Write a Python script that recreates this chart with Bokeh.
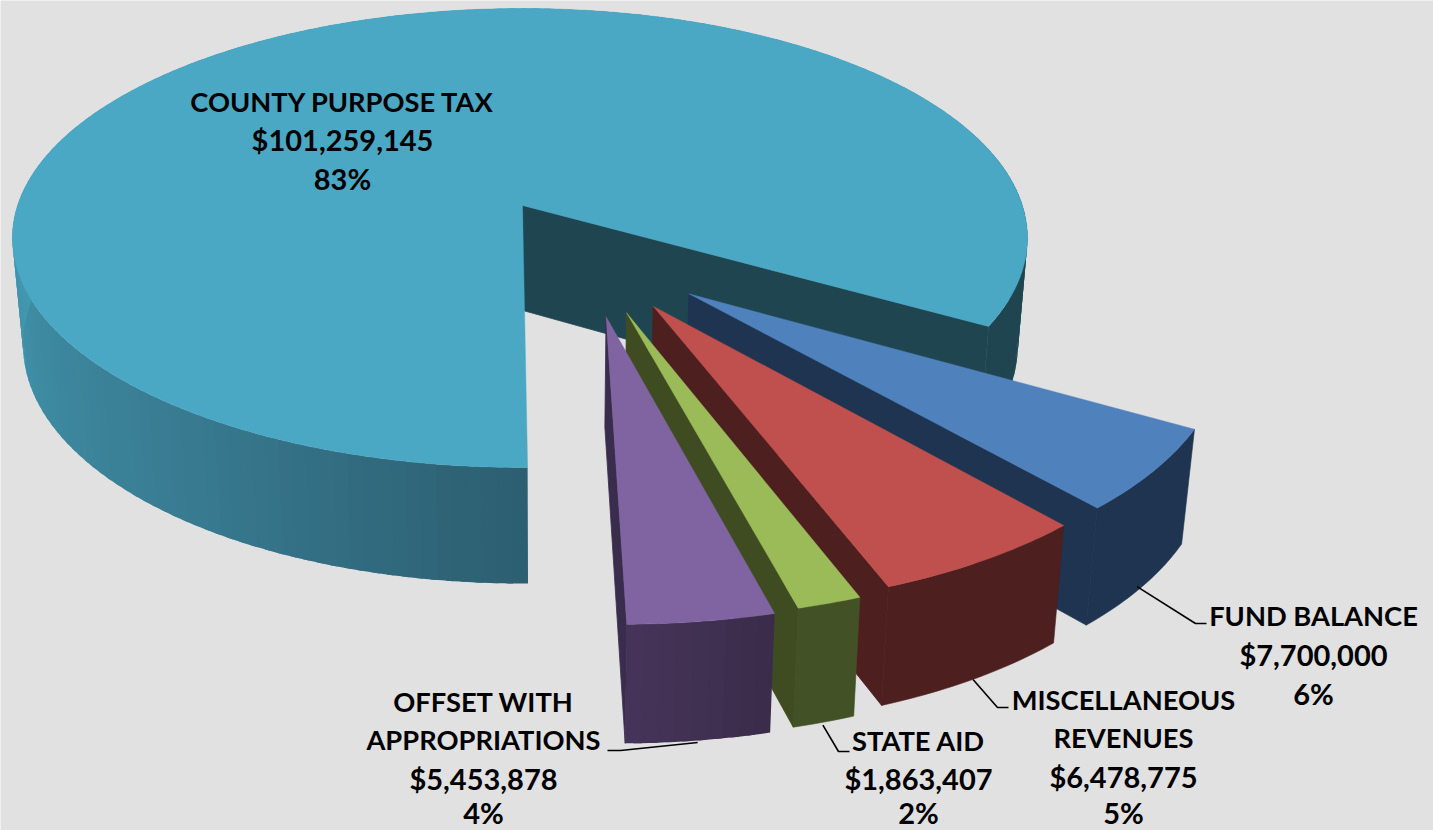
import numpy as np
from bokeh.plotting import figure
from bokeh.embed import file_html
from bokeh.resources import INLINE
from bokeh.core.properties import value

# ---- data ----
categories = ["COUNTY PURPOSE TAX", "FUND BALANCE", "MISCELLANEOUS REVENUES", "STATE AID", "OFFSET WITH APPROPRIATIONS"]
amounts = ["$101,259,145", "$7,700,000", "$6,478,775", "$1,863,407", "$5,453,878"]
percents = ["83%", "6%", "5%", "2%", "4%"]
# share of the circle each slice actually occupies in the drawn pie (percent)
drawn_shares = [83.47, 5.36, 5.75, 1.67, 3.75]

# ---- style ----
BG = "#e1e1e1"
top_colors = ["#4aa8c4", "#4f81bd", "#bf504d", "#9bbb59", "#8064a2"]
radial_colors = ["#1f4650", "#1e3450", "#4e1f1f", "#3f4c21", "#3a2c4c"]
wall_stops = [
    [(89.5, "#2c5e70"), (105, "#316a7e"), (125, "#387a90"), (180, "#4298b0"), (340, "#4298b0"),
     (349, "#1f4650"), (391, "#1f4650")],
    [(30, "#1e3450"), (50, "#1e3450")],
    [(49, "#4e1f1f"), (70, "#4e1f1f")],
    [(70, "#435226"), (76, "#435226")],
    [(76, "#3a2c4a"), (90, "#47345a")],
]

# ---- projection of the pie plane (unit circle) to the page ----
START_ANGLE = 89.5
GAP_CENTRE = 60.0
EXPLODE = 0.487
SLICE_RADIUS = [1.0, 1.0, 1.007, 1.012, 1.012]
TOP = dict(cx=522.0, cy=205.0, a=502.4, b=224.9, kx=0.1416, ky=0.1416, m=0.005)
BOTTOM = dict(cx=522.5, cy=310.0, a=492.4, b=237.5, kx=0.1416, ky=0.13, m=0.005)


def project(plane, X, Y):
    X, Y = np.asarray(X, float), np.asarray(Y, float)
    return (plane["cx"] + plane["a"] * X / (1 - plane["kx"] * Y + plane["m"] * X),
            plane["cy"] + plane["b"] * Y / (1 - plane["ky"] * Y))


def hex_rgb(c):
    return np.array([int(c[i:i + 2], 16) for i in (1, 3, 5)], float)


def wall_colour(stops, t):
    ts = [s[0] for s in stops]
    rgb = np.array([hex_rgb(s[1]) for s in stops])
    v = [np.interp(t, ts, rgb[:, i]) for i in range(3)]
    return "#%02x%02x%02x" % tuple(int(round(x)) for x in v)


W, H = 1433, 830
p = figure(width=W, height=H, x_range=(0, W), y_range=(H, 0),
           output_backend="svg", toolbar_location=None, min_border=0,
           background_fill_color=BG, border_fill_color=BG, outline_line_color=None)
p.axis.visible = False
p.grid.visible = False

angle = START_ANGLE
leader_anchor = []
for i, share in enumerate(drawn_shares):
    a0, a1 = angle, angle + share * 3.6
    angle = a1
    mid = (a0 + a1) / 2
    if i == 0:
        ox, oy = 0.0, 0.0
    else:
        d = np.radians(GAP_CENTRE + 0.5 * ((mid % 360) - GAP_CENTRE))
        ox, oy = EXPLODE * np.cos(d), EXPLODE * np.sin(d)

    r = SLICE_RADIUS[i]
    n = max(8, int((a1 - a0) / 0.75))
    th = np.linspace(a0, a1, n + 1)
    X, Y = ox + r * np.cos(np.radians(th)), oy + r * np.sin(np.radians(th))
    tx, ty = project(TOP, X, Y)
    bx, by = project(BOTTOM, X, Y)
    ax_t, ay_t = project(TOP, ox, oy)
    ax_b, ay_b = project(BOTTOM, ox, oy)

    # outer wall: bands, each reaching under the next one so that no seams show
    stops = wall_stops[i]
    if len({s[1] for s in stops}) == 1:
        p.patch(np.r_[tx, bx[::-1]], np.r_[ty, by[::-1]], fill_color=stops[0][1],
                line_color=stops[0][1], line_width=0.6)
    else:
        step = 2
        for j in range(0, n, step):
            e = min(n, j + step + 1)
            t = th[j] + (th[min(n, j + step)] - th[j]) / 2
            if i > 0:
                t = t % 360
            c = wall_colour(stops, t)
            p.patch(np.r_[tx[j:e + 1], bx[j:e + 1][::-1]], np.r_[ty[j:e + 1], by[j:e + 1][::-1]],
                    fill_color=c, line_color=None)

    # radial wall at the slice's clockwise edge
    p.patch([ax_t, tx[-1], bx[-1], ax_b], [ay_t, ty[-1], by[-1], ay_b],
            fill_color=radial_colors[i], line_color=radial_colors[i], line_width=0.8)

    # top face
    p.patch(np.r_[ax_t, tx], np.r_[ay_t, ty], fill_color=top_colors[i],
            line_color=top_colors[i], line_width=0.4)

    mr = np.radians(mid)
    leader_anchor.append(project(BOTTOM, ox + r * np.cos(mr), oy + r * np.sin(mr)))

# leader lines: start on the slice rim, then an elbow and a short run to the label
leader_nudge = [None, (-5, 0), (-2, 1), (-1, 3), (-1, 2)]
leader_elbow = [None, (1195, 623), (997, 707), (838, 751), (620, 750)]
leader_end = [None, (1206, 623), (1008, 707), (849, 751), (607, 750)]
for i in range(1, 5):
    sx, sy = leader_anchor[i]
    nx, ny = leader_nudge[i]
    p.line([sx + nx, leader_elbow[i][0], leader_end[i][0]],
           [sy + ny, leader_elbow[i][1], leader_end[i][1]],
           line_color="#000000", line_width=1.6)

# labels: names, then the amount and percentage in a slightly larger size
label_names = [
    [categories[0]],
    [categories[1]],
    ["MISCELLANEOUS", "REVENUES"],
    [categories[3]],
    ["OFFSET WITH", "APPROPRIATIONS"],
]
label_x = [342, 1313, 1123, 918, 483]
label_y = [[101, 139, 178], [615, 654, 693], [699, 737, 776, 812], [740, 778, 812], [701, 739, 778, 812]]
for k, (names, x, ys) in enumerate(zip(label_names, label_x, label_y)):
    m = len(names)
    p.text([x] * m, ys[:m], text=names, text_font=value("Lato"), text_font_style="bold",
           text_font_size="27.3px", text_color="#000000", text_align="center", text_baseline="middle")
    p.text([x, x], ys[m:], text=[amounts[k], percents[k]], text_font=value("Lato"), text_font_style="bold",
           text_font_size="29px", text_color="#000000", text_align="center", text_baseline="middle")

open("out.html", "w").write(file_html(p, INLINE))
